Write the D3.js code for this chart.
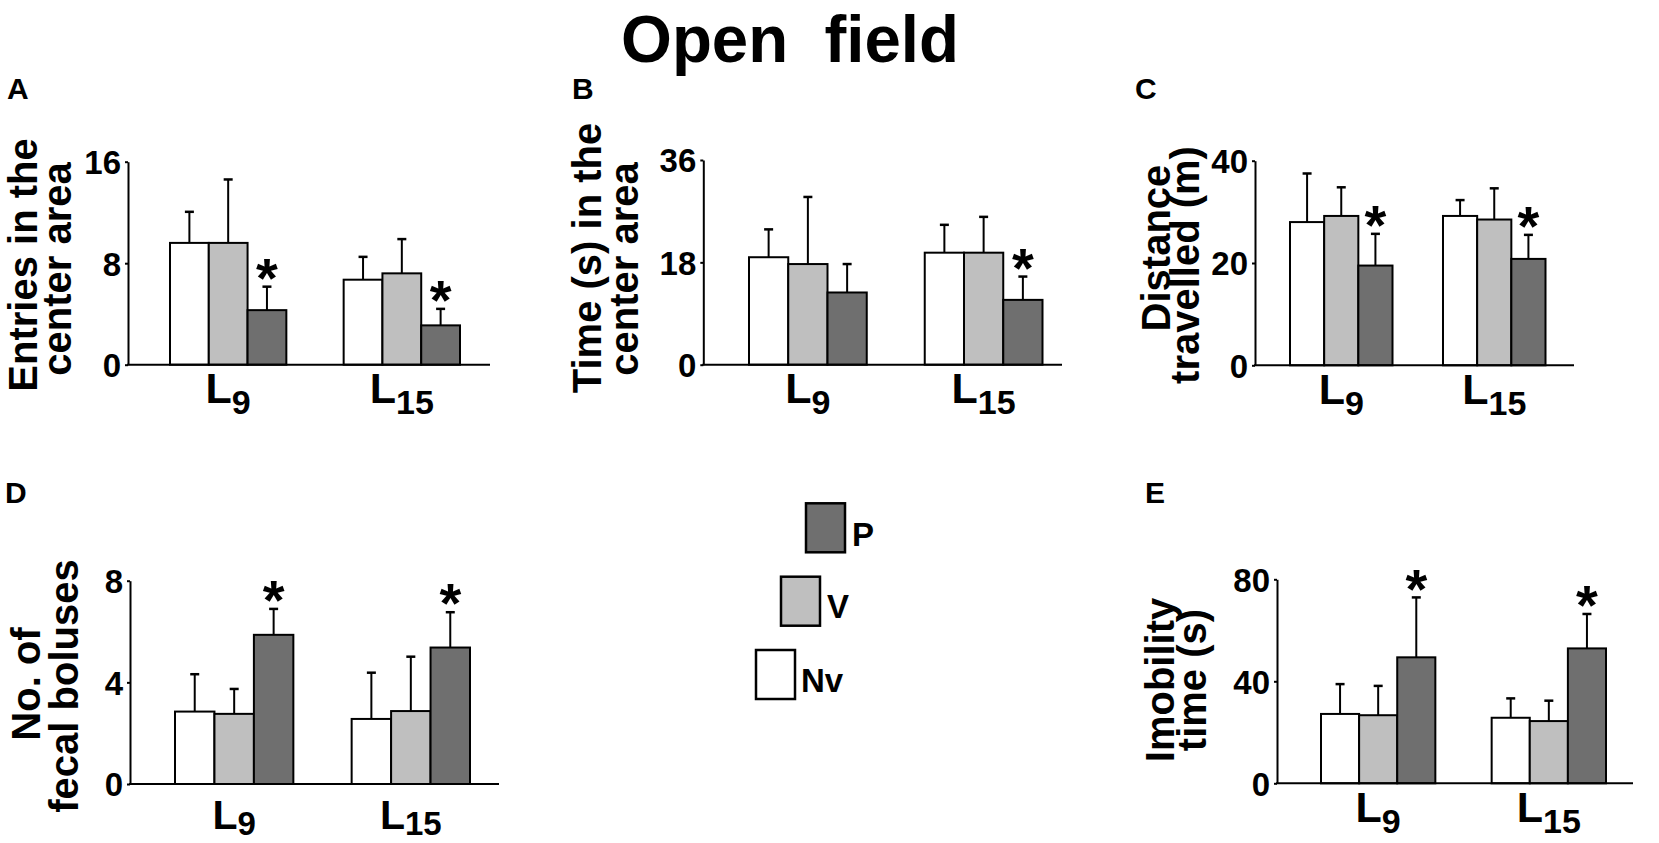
<!DOCTYPE html>
<html>
<head>
<meta charset="utf-8">
<script src="https://cdn.jsdelivr.net/npm/d3@7"></script>
<style>
  html, body { margin: 0; padding: 0; background: #fff; }
  svg text { font-family: "Liberation Sans", Arial, Helvetica, sans-serif; font-weight: bold; fill: #000; }
</style>
</head>
<body>
<svg id="chart" width="1659" height="843"></svg>
<script>
// ---------------- DATA ----------------
const categories = ["L9", "L15"];
const seriesNames = ["Nv", "V", "P"];

// Panel A: Entries in the center area
const entriesMean = { Nv: [9.6, 6.7], V: [9.6, 7.2], P: [4.3, 3.1] };
const entriesSem  = { Nv: [2.45, 1.8], V: [5.0, 2.7], P: [1.85, 1.3] };
const entriesTicks = [0, 8, 16];
const entriesStars = { P: [true, true] };

// Panel B: Time (s) in the center area
const timeMean = { Nv: [18.9, 19.7], V: [17.7, 19.7], P: [12.7, 11.4] };
const timeSem  = { Nv: [4.9, 4.9], V: [11.8, 6.3], P: [5.0, 4.1] };
const timeTicks = [0, 18, 36];
const timeStars = { P: [false, true] };

// Panel C: Distance travelled (m)
const distMean = { Nv: [28.0, 29.2], V: [29.2, 28.5], P: [19.5, 20.8] };
const distSem  = { Nv: [9.5, 3.1], V: [5.6, 6.1], P: [6.2, 4.7] };
const distTicks = [0, 20, 40];
const distStars = { P: [true, true] };

// Panel D: No. of fecal boluses
const bolusMean = { Nv: [2.85, 2.56], V: [2.76, 2.87], P: [5.87, 5.37] };
const bolusSem  = { Nv: [1.47, 1.82], V: [0.98, 2.14], P: [1.02, 1.39] };
const bolusTicks = [0, 4, 8];
const bolusStars = { P: [true, true] };

// Panel E: Imobility time (s)
const imobMean = { Nv: [27.2, 25.7], V: [26.7, 24.4], P: [49.4, 52.9] };
const imobSem  = { Nv: [11.7, 7.6], V: [11.5, 8.0], P: [23.5, 13.5] };
const imobTicks = [0, 40, 80];
const imobStars = { P: [true, true] };

// ---------------- STYLE / LAYOUT ----------------
const fills = { Nv: "#ffffff", V: "#bfbfbf", P: "#6f6f6f" };

const panels = [
  { letter: "A", lx: 7, ly: 99, mean: entriesMean, sem: entriesSem, ticks: entriesTicks, stars: entriesStars,
    axisX: 128, axisEnd: 490, yTop: 161.7, y0: 364.7, bars: [170, 460],
    ylab: [{t: "Entries in the", x: 37, y: 265}, {t: "center area", x: 71, y: 269}],
    cat: { size: 43, sub: 34, shift: 11, below: 38.6 } },
  { letter: "B", lx: 572, ly: 99, mean: timeMean, sem: timeSem, ticks: timeTicks, stars: timeStars,
    axisX: 703.3, axisEnd: 1062, yTop: 160, y0: 364.7, bars: [749, 1042.5],
    ylab: [{t: "Time (s) in the", x: 601, y: 258}, {t: "center area", x: 638, y: 269}],
    cat: { size: 43, sub: 34, shift: 11, below: 38.6 } },
  { letter: "C", lx: 1135, ly: 99, mean: distMean, sem: distSem, ticks: distTicks, stars: distStars,
    axisX: 1255, axisEnd: 1574, yTop: 160.7, y0: 365.3, bars: [1290, 1545.5],
    ylab: [{t: "Distance", x: 1170, y: 248}, {t: "travelled (m)", x: 1199, y: 265}],
    cat: { size: 43, sub: 34, shift: 11, below: 38.6 } },
  { letter: "D", lx: 5, ly: 503, mean: bolusMean, sem: bolusSem, ticks: bolusTicks, stars: bolusStars,
    axisX: 130, axisEnd: 499, yTop: 580.7, y0: 784, bars: [175, 470],
    ylab: [{t: "No. of", x: 40, y: 684}, {t: "fecal boluses", x: 78, y: 686}],
    cat: { size: 41, sub: 33, shift: 6, below: 45 } },
  { letter: "E", lx: 1145, ly: 503, mean: imobMean, sem: imobSem, ticks: imobTicks, stars: imobStars,
    axisX: 1277, axisEnd: 1633, yTop: 579.3, y0: 783.3, bars: [1321, 1606],
    ylab: [{t: "Imobility", x: 1174, y: 680}, {t: "time (s)", x: 1206, y: 680}],
    cat: { size: 43, sub: 34, shift: 11, below: 38.6 } }
];

const svg = d3.select("#chart");

// Title
svg.append("text")
  .attr("x", 621).attr("y", 62)
  .attr("font-size", 66)
  .attr("textLength", 338).attr("lengthAdjust", "spacingAndGlyphs")
  .style("white-space", "pre")
  .text("Open  field");

const starSize = 56;

panels.forEach(p => {
  const g = svg.append("g");
  // panel letter
  g.append("text").attr("x", p.lx).attr("y", p.ly).attr("font-size", 30).text(p.letter);

  const maxV = p.ticks[p.ticks.length - 1];
  const y = d3.scaleLinear().domain([0, maxV]).range([p.y0, p.yTop]);
  const x0 = d3.scaleBand().domain(categories).range(p.bars).paddingInner(0.33).paddingOuter(0);
  const x1 = d3.scaleBand().domain(seriesNames).range([0, x0.bandwidth()]).padding(0);

  // Bars
  categories.forEach((c, ci) => {
    seriesNames.forEach(s => {
      const v = p.mean[s][ci];
      const e = p.sem[s][ci];
      const bx = x0(c) + x1(s);
      const bw = x1.bandwidth();
      g.append("rect")
        .attr("x", bx).attr("y", y(v))
        .attr("width", bw).attr("height", y(0) - y(v))
        .attr("fill", fills[s]).attr("stroke", "#000").attr("stroke-width", 2);
      const cx = bx + bw / 2;
      // error bar (upper only)
      g.append("line").attr("x1", cx).attr("x2", cx).attr("y1", y(v)).attr("y2", y(v + e))
        .attr("stroke", "#000").attr("stroke-width", 2);
      g.append("line").attr("x1", cx - 4.5).attr("x2", cx + 4.5).attr("y1", y(v + e)).attr("y2", y(v + e))
        .attr("stroke", "#000").attr("stroke-width", 2.5);
      if (p.stars[s] && p.stars[s][ci]) {
        g.append("text").attr("x", cx).attr("y", y(v + e) - 15 + 0.45 * starSize)
          .attr("text-anchor", "middle").attr("font-size", starSize).text("*");
      }
    });
  });

  // Y axis
  const yAxis = d3.axisLeft(y).tickValues(p.ticks).tickSizeInner(3).tickSizeOuter(0).tickPadding(4)
    .tickFormat(d3.format("d"));
  const ya = g.append("g").attr("transform", `translate(${p.axisX},0)`).call(yAxis);
  ya.select(".domain").attr("stroke", "#000").attr("stroke-width", 2);
  ya.selectAll(".tick line").attr("stroke", "#000").attr("stroke-width", 2);
  ya.selectAll(".tick text").attr("font-size", 33).attr("font-family", "Liberation Sans, Arial, sans-serif")
    .attr("font-weight", "bold").attr("fill", "#000").attr("dy", "0.36em");

  // X axis baseline
  g.append("line").attr("x1", p.axisX - 1).attr("x2", p.axisEnd).attr("y1", y(0)).attr("y2", y(0))
    .attr("stroke", "#000").attr("stroke-width", 2);

  // Category labels
  categories.forEach(c => {
    const t = g.append("text")
      .attr("x", x0(c) + x0.bandwidth() / 2)
      .attr("y", y(0) + p.cat.below)
      .attr("text-anchor", "middle")
      .attr("font-size", p.cat.size);
    t.append("tspan").text(c.slice(0, 1));
    t.append("tspan").attr("font-size", p.cat.sub).attr("dy", p.cat.shift).text(c.slice(1));
  });

  // Y label (two lines, rotated)
  p.ylab.forEach(l => {
    g.append("text")
      .attr("transform", `translate(${l.x},${l.y}) rotate(-90)`)
      .attr("text-anchor", "middle")
      .attr("font-size", 40)
      .text(l.t);
  });
});

// Legend
const legend = [
  { s: "P", x: 806, y: 503.3, lx: 852, ly: 546 },
  { s: "V", x: 781, y: 576.7, lx: 827, ly: 618 },
  { s: "Nv", x: 756, y: 650, lx: 801, ly: 692 }
];
legend.forEach(d => {
  svg.append("rect").attr("x", d.x).attr("y", d.y).attr("width", 39).attr("height", 49)
    .attr("fill", fills[d.s]).attr("stroke", "#000").attr("stroke-width", 2.5);
  svg.append("text").attr("x", d.lx).attr("y", d.ly).attr("font-size", 33).text(d.s);
});
</script>
</body>
</html>
